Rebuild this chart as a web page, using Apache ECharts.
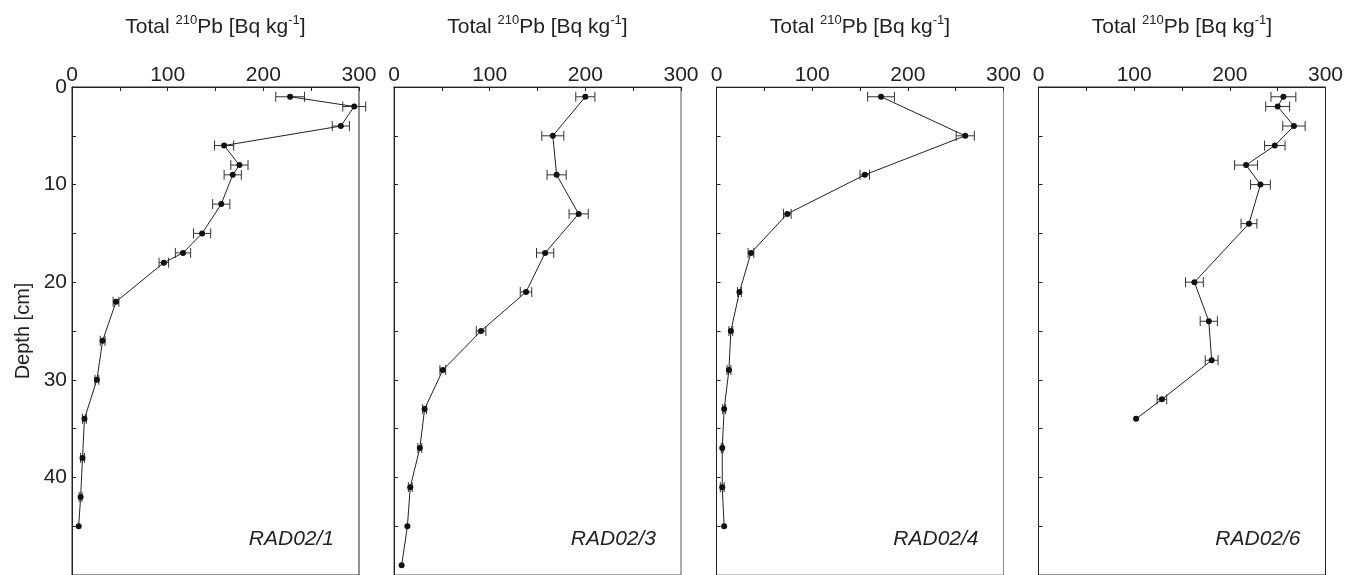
<!DOCTYPE html>
<html><head><meta charset="utf-8">
<script src="https://cdn.jsdelivr.net/npm/echarts@6/dist/echarts.min.js"></script>
<style>html,body{margin:0;padding:0;background:#fff}#c{width:1356px;height:575px}</style>
</head><body><div id="c"></div>
<script>
// ---- data ----
const coreNames = ['RAD02/1', 'RAD02/3', 'RAD02/4', 'RAD02/6'];

const depth1 = [1, 2, 4, 6, 8, 9, 12, 15, 17, 18, 22, 26, 30, 34, 38, 42, 45];
const pb1    = [228, 295, 281, 159, 175, 168, 156, 136, 116, 96, 46, 32, 26, 13, 11, 9, 7];
const err1   = [15, 12, 9, 10, 9, 9, 9, 9, 8, 5, 3, 2.5, 2, 2, 2, 1.5, 0];

const depth2 = [1, 5, 9, 13, 17, 21, 25, 29, 33, 37, 41, 45, 49];
const pb2    = [200, 166, 170, 193, 158, 138, 91, 51, 32, 27, 17, 14, 8];
const err2   = [10, 11.5, 10, 10, 9, 6, 5, 3, 2, 2, 2, 0, 0];

const depth3 = [1, 5, 9, 13, 17, 21, 25, 29, 33, 37, 41, 45];
const pb3    = [172, 260, 155, 74, 36, 24, 15, 13, 8, 6, 6, 8];
const err3   = [14, 9.5, 5, 4, 3, 2, 2, 2, 1.5, 1, 2, 0];

const depth4 = [1, 2, 4, 6, 8, 10, 14, 20, 24, 28, 32, 34];
const pb4    = [256, 250, 267, 247, 217, 232, 220, 163, 178, 181, 129, 102];
const err4   = [13, 12.5, 11.7, 10.7, 12, 10.3, 8.3, 9.3, 9, 6.7, 5, 0];

const xLabelValues = [0, 100, 200, 300];
const yLabelValues = [0, 10, 20, 30, 40];

// ---- chart ----
const FONT = '"Liberation Sans", Arial, Helvetica, sans-serif';
const INK = '#222';
const panels = [[depth1, pb1, err1], [depth2, pb2, err2], [depth3, pb3, err3], [depth4, pb4, err4]];
const lefts = [72, 394, 716.5, 1038.5];
const rightEdge = ['#222', '#555', '#888', '#222'];
const W = 287, TOP = 87, H = 493;

const grid = [], xAxis = [], yAxis = [], series = [], title = [];
panels.forEach((p, i) => {
  const [dep, val, err] = p;
  grid.push({left: lefts[i], top: TOP, width: W, height: H, show: true,
             borderColor: rightEdge[i], borderWidth: 1, backgroundColor: 'transparent', containLabel: false});
  xAxis.push({
    gridIndex: i, type: 'value', position: 'top', min: 0, max: 300, interval: 50,
    axisLine: {show: true, onZero: false, lineStyle: {color: INK, width: 1}},
    axisTick: {show: true, inside: true, length: 4, lineStyle: {color: INK}},
    splitLine: {show: false},
    axisLabel: {fontSize: 21, fontFamily: FONT, color: INK, margin: 1,
                formatter: v => xLabelValues.includes(v) ? String(v) : ''},
    name: 'Total {sup|210}Pb [Bq kg{sup|-1}]',
    nameLocation: 'middle', nameGap: 47,
    nameTextStyle: {fontSize: 21, fontFamily: FONT, color: INK, lineHeight: 26,
      rich: {sup: {fontSize: 13, fontFamily: FONT, color: INK, verticalAlign: 'top', lineHeight: 13}}}
  });
  yAxis.push({
    gridIndex: i, type: 'value', inverse: true, min: 0, max: 50, interval: 5,
    axisLine: {show: true, onZero: false, lineStyle: {color: INK, width: 1}},
    axisTick: {show: true, inside: true, length: 4, lineStyle: {color: INK}},
    splitLine: {show: false},
    axisLabel: {show: i === 0, fontSize: 21, fontFamily: FONT, color: INK, margin: 5,
                formatter: v => yLabelValues.includes(v) ? String(v) : ''},
    name: i === 0 ? 'Depth [cm]' : '', nameLocation: 'middle', nameGap: 39, nameRotate: 90,
    nameTextStyle: {fontSize: 20, fontFamily: FONT, color: INK, padding: [0, 0, 0, 0]}
  });
  series.push({
    type: 'custom', xAxisIndex: i, yAxisIndex: i, z: 2, silent: true,
    data: val.map((v, k) => [v, dep[k], err[k]]),
    encode: {x: 0, y: 1},
    renderItem: (params, api) => {
      const v = api.value(0), d = api.value(1), e = api.value(2);
      if (!e) return null;
      const l = api.coord([v - e, d]), r = api.coord([v + e, d]);
      const h = 5, st = {stroke: '#333', lineWidth: 1};
      return {type: 'group', children: [
        {type: 'line', shape: {x1: l[0], y1: l[1], x2: r[0], y2: r[1]}, style: st},
        {type: 'line', shape: {x1: l[0], y1: l[1] - h, x2: l[0], y2: l[1] + h}, style: st},
        {type: 'line', shape: {x1: r[0], y1: r[1] - h, x2: r[0], y2: r[1] + h}, style: st}
      ]};
    }
  });
  series.push({
    type: 'line', xAxisIndex: i, yAxisIndex: i, z: 3, silent: true,
    data: val.map((v, k) => [v, dep[k]]),
    symbol: 'circle', symbolSize: 6, showSymbol: true,
    itemStyle: {color: '#111'}, lineStyle: {color: INK, width: 1}, animation: false
  });
  title.push({
    text: coreNames[i], right: 1356 - (lefts[i] + 262), top: 529,
    textStyle: {fontSize: 21, fontStyle: 'italic', fontWeight: 'normal', fontFamily: FONT, color: INK},
    padding: 0
  });
});

const chart = echarts.init(document.getElementById('c'), null, {renderer: 'canvas'});
chart.setOption({animation: false, backgroundColor: '#fff', title, grid, xAxis, yAxis, series});
</script>
</body></html>
